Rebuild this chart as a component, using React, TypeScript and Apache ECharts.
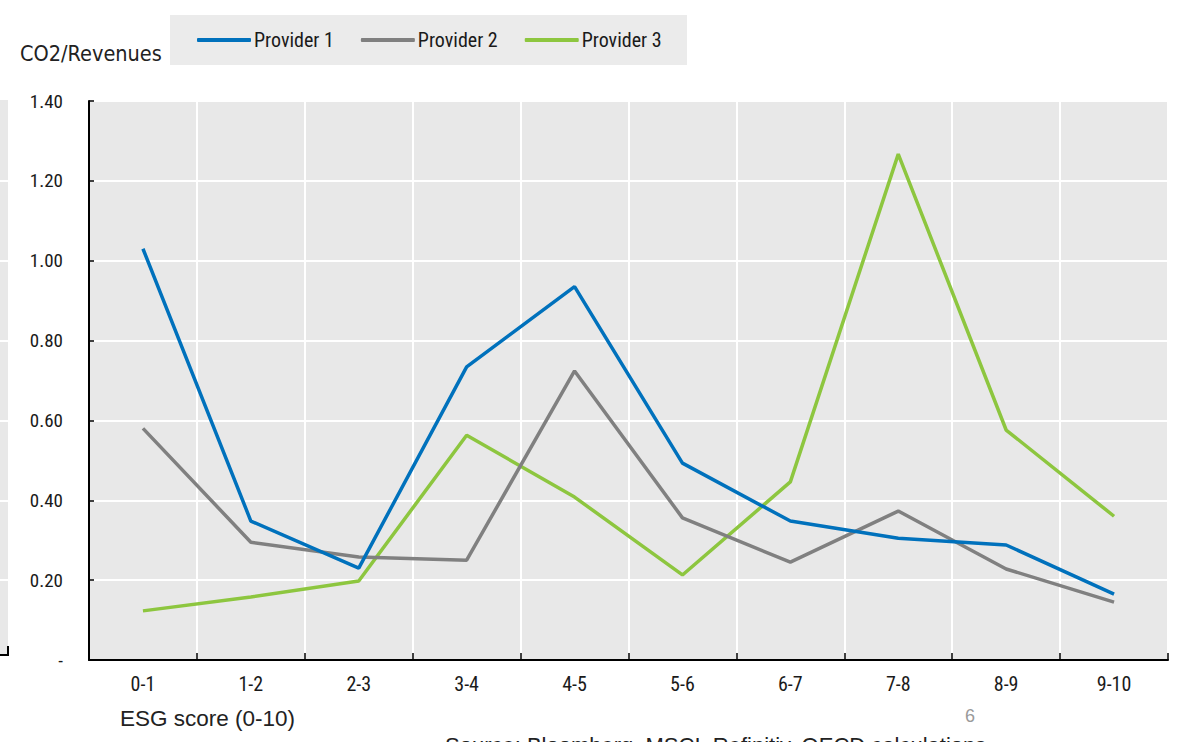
import React, { useEffect, useRef } from "react";
import * as echarts from "echarts";

const categories = ["0-1", "1-2", "2-3", "3-4", "4-5", "5-6", "6-7", "7-8", "8-9", "9-10"];
const provider1 = [1.03, 0.348, 0.23, 0.734, 0.935, 0.493, 0.348, 0.305, 0.288, 0.165];
const provider2 = [0.58, 0.295, 0.258, 0.25, 0.724, 0.356, 0.245, 0.373, 0.228, 0.145];
const provider3 = [0.123, 0.158, 0.198, 0.563, 0.408, 0.213, 0.446, 1.267, 0.576, 0.36];
const seriesNames = ["Provider 1", "Provider 2", "Provider 3"];
const colors = ["#0071bc", "#808080", "#8dc63f"];

const COND = "'Roboto Condensed', 'DejaVu Sans Condensed', sans-serif";
const ARIAL = "'Liberation Sans', Arial, sans-serif";

export default function App() {
  const ref = useRef<HTMLDivElement>(null);
  useEffect(() => {
    if (!ref.current) return;
    const chart = echarts.init(ref.current, undefined, { renderer: "svg" });
    const gridYs = [181, 261, 341, 421, 501, 580];
    const stripLines = gridYs.map((y) => ({
      type: "line",
      shape: { x1: 0, y1: y, x2: 8, y2: y },
      style: { stroke: "#ffffff", lineWidth: 2 },
      silent: true,
    }));
    chart.setOption({
      animation: false,
      backgroundColor: "#ffffff",
      color: colors,
      grid: { left: 89, top: 101, right: 11, bottom: 82, show: true, backgroundColor: "#e8e8e8", borderWidth: 0 },
      legend: {
        data: seriesNames,
        left: 192,
        top: 25,
        icon: "roundRect",
        itemWidth: 54,
        itemHeight: 4,
        itemGap: 27,
        textStyle: { fontFamily: COND, fontSize: 20, color: "#1a1a1a", padding: [0, 0, 0, -2] },
      },
      graphic: [
        { type: "rect", z: -1, shape: { x: 170, y: 15, width: 517, height: 50 }, style: { fill: "#ebebeb" }, silent: true },
        { type: "rect", z: -1, shape: { x: 0, y: 100, width: 8, height: 555 }, style: { fill: "#e8e8e8" }, silent: true },
        ...stripLines,
        { type: "polyline", shape: { points: [[0, 655], [8, 655], [8, 646]] }, style: { stroke: "#000", lineWidth: 2, fill: null }, silent: true },
        { type: "text", left: 20, top: 42, style: { text: "CO2/Revenues", fontFamily: "'DejaVu Sans Condensed', sans-serif", fontSize: 21.5, fill: "#222" } },
        { type: "text", left: 120, top: 707, style: { text: "ESG score (0-10)", fontFamily: ARIAL, fontSize: 22.5, fill: "#222" } },
        { type: "text", left: 965, top: 707, style: { text: "6", fontFamily: ARIAL, fontSize: 18, fill: "#9a9a9a" } },
        { type: "text", left: 445, top: 734, style: { text: "Source: Bloomberg, MSCI, Refinitiv, OECD calculations", fontFamily: ARIAL, fontSize: 22, fill: "#222" } },
      ],
      xAxis: {
        type: "category",
        data: categories,
        boundaryGap: true,
        axisLine: { lineStyle: { color: "#000", width: 2 } },
        axisTick: { show: true, inside: true, length: 7, lineStyle: { color: "#000", width: 1.5 } },
        axisLabel: { fontFamily: COND, fontSize: 20, color: "#1a1a1a", margin: 14 },
        splitLine: { show: true, lineStyle: { color: "#ffffff", width: 2 } },
      },
      yAxis: {
        type: "value",
        min: 0,
        max: 1.4,
        interval: 0.2,
        axisLine: { show: true, lineStyle: { color: "#000", width: 2 } },
        axisTick: { show: true, inside: true, length: 5, lineStyle: { color: "#000", width: 1.5 } },
        axisLabel: {
          fontFamily: COND,
          fontSize: 19,
          color: "#1a1a1a",
          margin: 26,
          formatter: (v: number) => (v === 0 ? "-" : v.toFixed(2)),
        },
        splitLine: { show: true, lineStyle: { color: "#ffffff", width: 2 } },
      },
      series: [provider1, provider2, provider3].map((d, i) => ({
        name: seriesNames[i],
        type: "line",
        data: d,
        showSymbol: false,
        symbol: "none",
        lineStyle: { width: 3.5, color: colors[i] },
        itemStyle: { color: colors[i] },
        z: 3 - i,
      })),
    });
    return () => chart.dispose();
  }, []);
  return <div ref={ref} style={{ position: "fixed", left: 0, top: 0, width: 1179, height: 742 }} />;
}
